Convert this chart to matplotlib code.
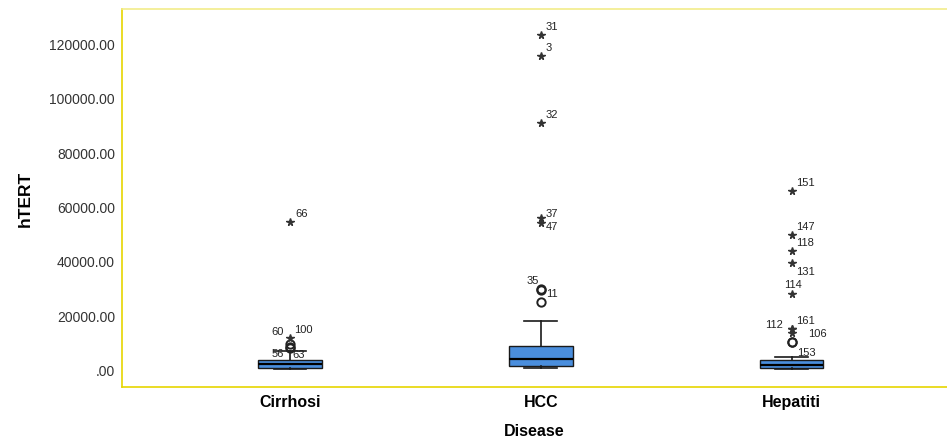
import matplotlib
matplotlib.use('Agg')
import matplotlib.pyplot as plt

plt.rcParams['font.family'] = ['Liberation Sans', 'DejaVu Sans']

# box statistics for each disease group
categories = ['Cirrhosi', 'HCC', 'Hepatiti']
whislo = [500, 700, 500]
q1 = [900, 1350, 750]
med = [2350, 4000, 1850]
q3 = [3650, 8700, 3800]
whishi = [6900, 18100, 4650]

# outliers: group index, value, case label, kind ('o' = outlier, '*' = extreme)
out_group = [0, 0, 0, 0, 0,
             1, 1, 1, 1, 1, 1, 1, 1,
             2, 2, 2, 2, 2, 2, 2, 2, 2, 2]
out_value = [8000, 8400, 9500, 11800, 54300,
             122900, 115200, 90600, 55800, 53900, 29700, 29400, 25100,
             65800, 49500, 43600, 39200, 27900, 15200, 15000, 13400, 10200, 10200]
out_label = ['56', '63', '60', '100', '66',
             '31', '3', '32', '37', '47', '35', '11', '',
             '151', '147', '118', '131', '114', '161', '112', '106', '153', '']
out_kind = ['o', 'o', 'o', '*', '*',
            '*', '*', '*', '*', '*', 'o', 'o', 'o',
            '*', '*', '*', '*', '*', '*', '*', '*', 'o', 'o']

# label placement (pixels, relative to point) - only layout
lab_dx = [-12, 9, -12, 13, 5,
          5, 5, 5, 5, 5, -8, 5, 0,
          5, 5, 5, 5, 1, 5, -9, 17, 6, 0]
lab_dy = [-5, -7, 13, 9, 9,
          9, 9, 9, 5, -3, 9, -3, 0,
          9, 9, 9, -8, 10, 9, 5, 0, -10, 0]
lab_ha = ['center', 'center', 'center', 'center', 'left',
          'left', 'left', 'left', 'left', 'left', 'center', 'left', 'left',
          'left', 'left', 'left', 'left', 'center', 'left', 'right', 'left', 'left', 'left']

fig = plt.figure(figsize=(9.47, 4.39), dpi=100)
ax = fig.add_axes([0.1288, 0.1162, 0.8712, 0.861])

stats = []
for i in range(len(categories)):
    stats.append({'whislo': whislo[i], 'q1': q1[i], 'med': med[i], 'q3': q3[i],
                  'whishi': whishi[i], 'fliers': [], 'label': categories[i]})

ax.bxp(stats, positions=range(len(categories)), widths=0.255, capwidths=0.13,
       showfliers=False, patch_artist=True,
       boxprops=dict(facecolor='#4A8EDD', edgecolor='#1a1a1a', linewidth=1.0),
       medianprops=dict(color='black', linewidth=1.6),
       whiskerprops=dict(color='#1a1a1a', linewidth=1.2),
       capprops=dict(color='#1a1a1a', linewidth=1.2))

for g, v, lab, k, dx, dy, ha in zip(out_group, out_value, out_label, out_kind, lab_dx, lab_dy, lab_ha):
    if k == '*':
        ax.plot(g, v, marker='*', color='#333333', markersize=5.5, linestyle='none')
    else:
        ax.plot(g, v, marker='o', markerfacecolor='none', markeredgecolor='#222222',
                markeredgewidth=1.4, markersize=6, linestyle='none')
    if lab:
        ax.annotate(lab, (g, v), xytext=(dx, dy), textcoords='offset pixels',
                    ha=ha, va='center', fontsize=8, color='#222222')

ax.set_xlim(-0.67, 2.62)
ax.set_ylim(-6240, 132480)
ax.set_yticks([0, 20000, 40000, 60000, 80000, 100000, 120000])
ax.set_yticklabels(['.00', '20000.00', '40000.00', '60000.00', '80000.00', '100000.00', '120000.00'])
ax.set_xticks(range(len(categories)))
ax.set_xticklabels(categories, fontweight='bold', fontsize=11.5)
ax.tick_params(axis='y', length=0, pad=5, labelsize=10, labelcolor='#333333')
ax.tick_params(axis='x', length=0, pad=5)

ax.set_xlabel('Disease', fontweight='bold', fontsize=11.5, labelpad=10)
ax.set_ylabel('hTERT', fontweight='bold', fontsize=12.5, labelpad=12)

ax.spines['right'].set_visible(False)
ax.spines['left'].set_color('#E6D600')
ax.spines['bottom'].set_color('#E6D600')
ax.spines['top'].set_color('#F2EC8A')
for s in ['left', 'bottom', 'top']:
    ax.spines[s].set_linewidth(1.2)

plt.savefig('out.png', dpi=100)
